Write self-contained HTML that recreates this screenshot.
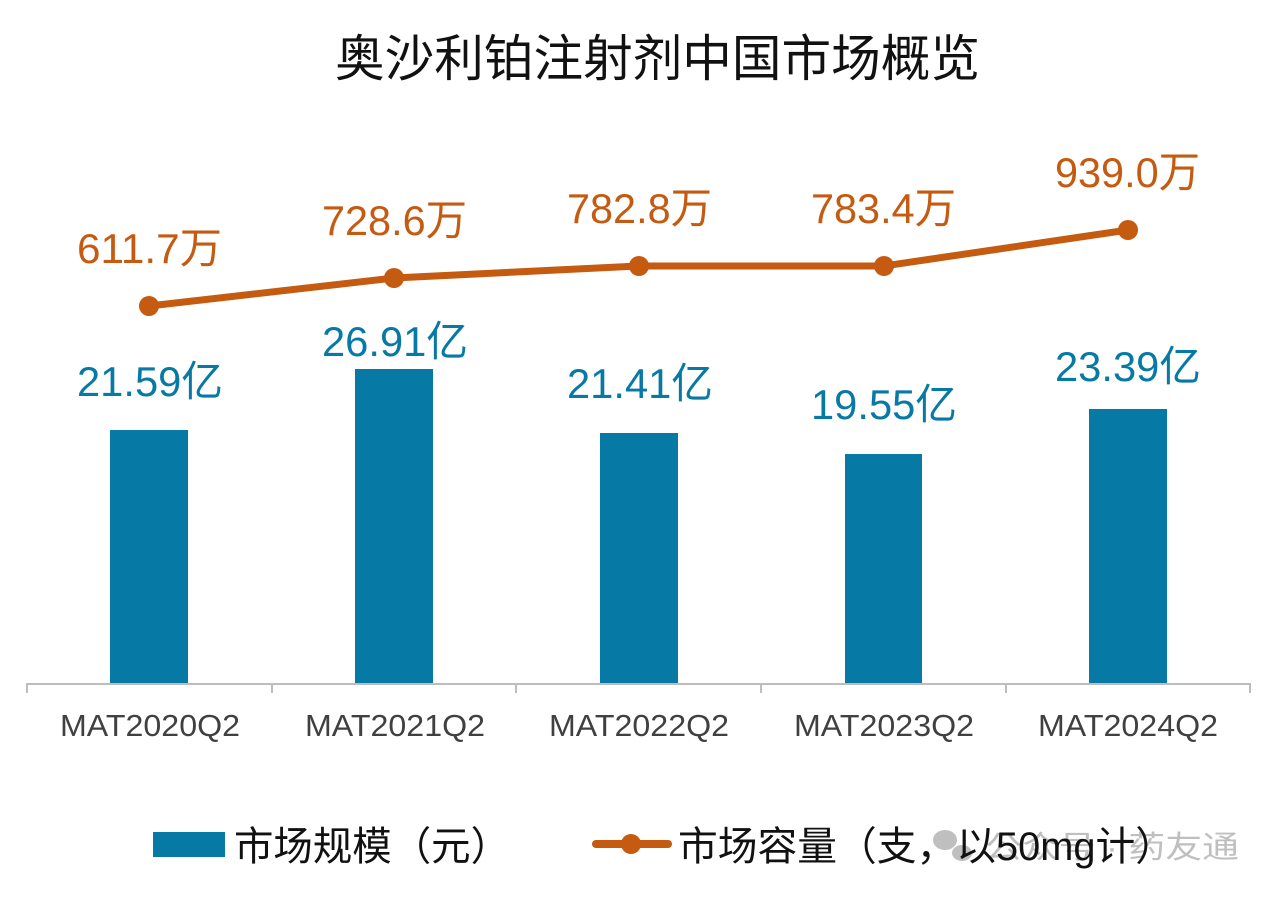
<!DOCTYPE html>
<html><head><meta charset="utf-8"><style>
body{margin:0;background:#fff;}
svg{display:block;font-family:"Liberation Sans","Noto Sans CJK SC",sans-serif;}
</style></head><body>
<svg width="1280" height="897" viewBox="0 0 1280 897" xmlns="http://www.w3.org/2000/svg">
<rect width="1280" height="897" fill="#fff"/>
<text x="335" y="76" font-size="50" textLength="645" lengthAdjust="spacingAndGlyphs" fill="#111">奥沙利铂注射剂中国市场概览</text>
<g fill="#0779a5">
<rect x="110" y="430" width="78" height="253"/>
<rect x="355" y="369" width="78" height="314"/>
<rect x="600" y="433" width="78" height="250"/>
<rect x="845" y="454" width="77" height="229"/>
<rect x="1089" y="409" width="78" height="274"/>
</g>
<g stroke="#bdbdbd" stroke-width="2" fill="none">
<line x1="26" y1="684" x2="1251" y2="684"/>
<line x1="27" y1="684" x2="27" y2="693"/>
<line x1="272" y1="684" x2="272" y2="693"/>
<line x1="516" y1="684" x2="516" y2="693"/>
<line x1="761" y1="684" x2="761" y2="693"/>
<line x1="1006" y1="684" x2="1006" y2="693"/>
<line x1="1250" y1="684" x2="1250" y2="693"/>
</g>
<g font-size="31" fill="#404040">
<text x="60" y="736" textLength="180" lengthAdjust="spacingAndGlyphs">MAT2020Q2</text>
<text x="305" y="736" textLength="180" lengthAdjust="spacingAndGlyphs">MAT2021Q2</text>
<text x="549" y="736" textLength="180" lengthAdjust="spacingAndGlyphs">MAT2022Q2</text>
<text x="794" y="736" textLength="180" lengthAdjust="spacingAndGlyphs">MAT2023Q2</text>
<text x="1038" y="736" textLength="180" lengthAdjust="spacingAndGlyphs">MAT2024Q2</text>
</g>
<polyline points="149,306 394,278 639,266 884,266 1128,230" fill="none" stroke="#c55a11" stroke-width="7" stroke-linejoin="round"/>
<g fill="#c55a11">
<circle cx="149" cy="306" r="10"/><circle cx="394" cy="278" r="10"/><circle cx="639" cy="266" r="10"/><circle cx="884" cy="266" r="10"/><circle cx="1128" cy="230" r="10"/>
</g>
<g font-size="42" fill="#c55a11">
<text x="77" y="263" textLength="145" lengthAdjust="spacingAndGlyphs">611.7万</text>
<text x="322" y="235" textLength="145" lengthAdjust="spacingAndGlyphs">728.6万</text>
<text x="567" y="223" textLength="145" lengthAdjust="spacingAndGlyphs">782.8万</text>
<text x="811" y="223" textLength="145" lengthAdjust="spacingAndGlyphs">783.4万</text>
<text x="1055" y="187" textLength="145" lengthAdjust="spacingAndGlyphs">939.0万</text>
</g>
<g font-size="42" fill="#0779a5">
<text x="77" y="396" textLength="146" lengthAdjust="spacingAndGlyphs">21.59亿</text>
<text x="322" y="356" textLength="146" lengthAdjust="spacingAndGlyphs">26.91亿</text>
<text x="567" y="398" textLength="146" lengthAdjust="spacingAndGlyphs">21.41亿</text>
<text x="811" y="419" textLength="146" lengthAdjust="spacingAndGlyphs">19.55亿</text>
<text x="1055" y="381" textLength="146" lengthAdjust="spacingAndGlyphs">23.39亿</text>
</g>
<rect x="153" y="832" width="72" height="25" fill="#0779a5"/>
<text x="234" y="860" font-size="40" textLength="276" lengthAdjust="spacingAndGlyphs" fill="#111">市场规模（元）</text>
<line x1="596" y1="844" x2="668" y2="844" stroke="#c55a11" stroke-width="8" stroke-linecap="round"/>
<circle cx="631" cy="844" r="10" fill="#c55a11"/>
<text x="985" y="858" font-size="31" textLength="254" lengthAdjust="spacingAndGlyphs" fill="#b0b0b0" opacity="0.8">公众号 · 药友通</text>
<g fill="#b0b0b0" opacity="0.8"><ellipse cx="945" cy="840" rx="12" ry="10"/><ellipse cx="962" cy="853" rx="10" ry="8"/></g>
<text x="678" y="860" font-size="40" textLength="497" lengthAdjust="spacingAndGlyphs" fill="#111">市场容量（支，以50mg计）</text>
</svg>
</body></html>
